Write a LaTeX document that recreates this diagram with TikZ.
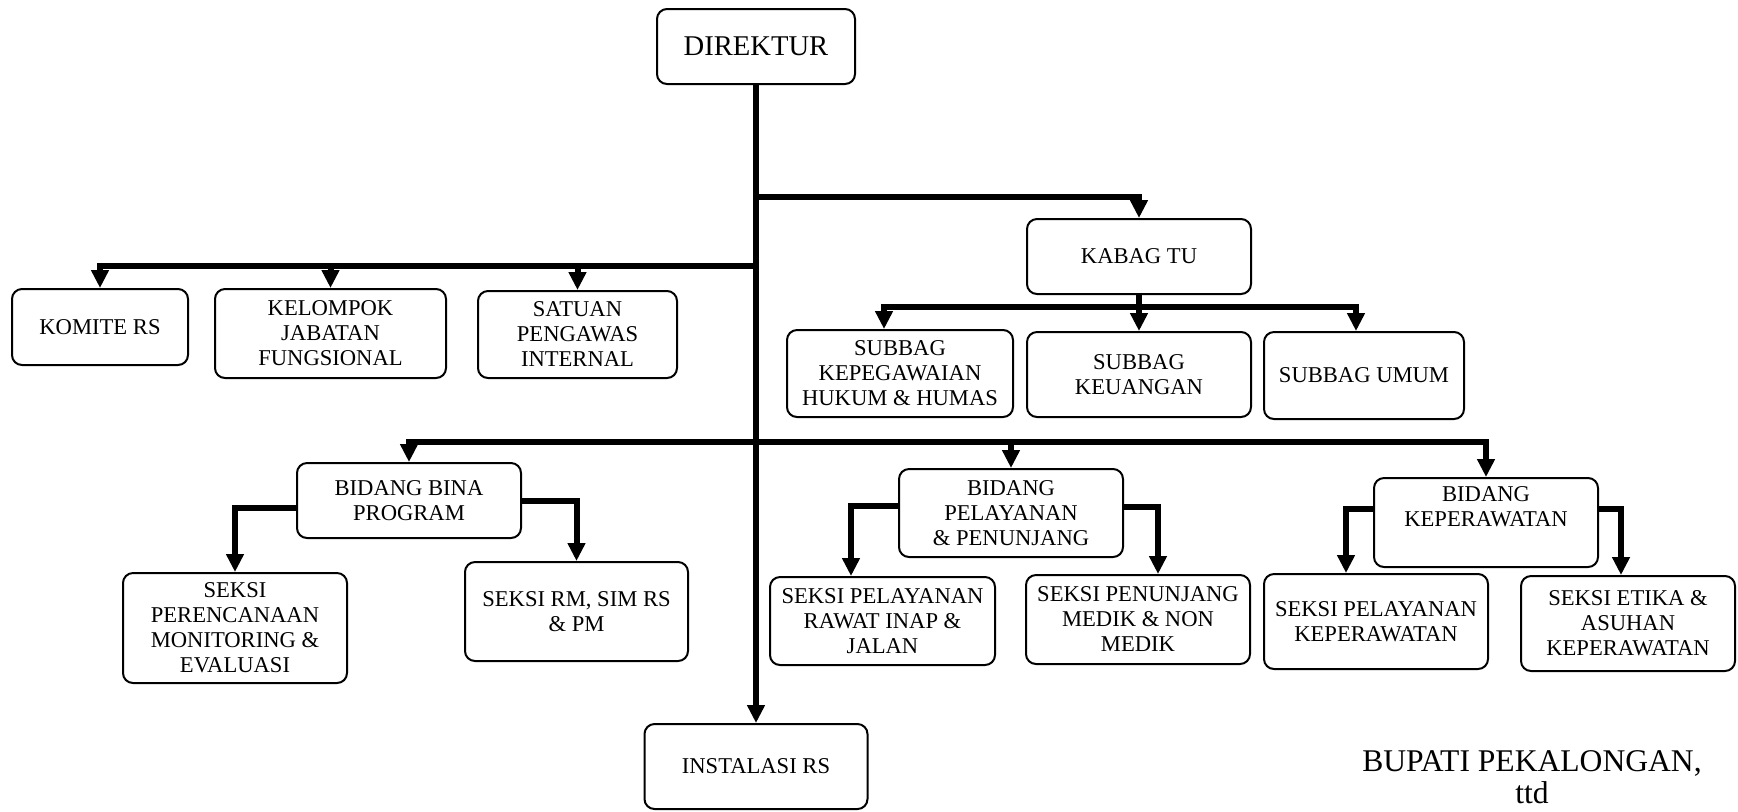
\documentclass[tikz,border=0pt]{standalone}
\usepackage{fontspec}
\setmainfont{Liberation Serif}
\usetikzlibrary{arrows.meta}
\begin{document}
\begin{tikzpicture}[x=0.5pt,y=-0.5pt,
  box/.style={draw,line width=1pt,rounded corners=5pt,inner sep=0pt,align=center,
    font=\fontsize{11.3pt}{12.5pt}\selectfont},
  arr/.style={line width=3pt,-{Triangle[width=8.5pt,length=9pt]}}]
\useasboundingbox (0,0) rectangle (1738,811);
% boxes
\node[box,minimum width=99pt,minimum height=37.5pt,font=\fontsize{14.3pt}{16pt}\selectfont] (dir) at (756,46.5) {DIREKTUR};
\node[box,minimum width=88pt,minimum height=38pt] (komite) at (100,327) {KOMITE RS};
\node[box,minimum width=115.5pt,minimum height=44.5pt] (kelompok) at (330.5,333.5) {KELOMPOK\\JABATAN\\FUNGSIONAL};
\node[box,minimum width=99.5pt,minimum height=43.5pt] (satuan) at (577.5,334.5) {SATUAN\\PENGAWAS\\INTERNAL};
\node[box,minimum width=112pt,minimum height=37.5pt] (kabag) at (1139,256.5) {KABAG TU};
\node[box,minimum width=113pt,minimum height=43.5pt] (kepeg) at (900,373.5) {SUBBAG\\KEPEGAWAIAN\\HUKUM \& HUMAS};
\node[box,minimum width=112pt,minimum height=42.5pt] (keu) at (1139,374.5) {SUBBAG\\KEUANGAN};
\node[box,minimum width=100pt,minimum height=43.5pt] (umum) at (1364,375.5) {SUBBAG UMUM};
\node[box,minimum width=112pt,minimum height=37.5pt] (bina) at (409,500.5) {BIDANG BINA\\PROGRAM};
\node[box,minimum width=112pt,minimum height=55pt] (per) at (235,628) {SEKSI\\PERENCANAAN\\MONITORING \&\\EVALUASI};
\node[box,minimum width=111.5pt,minimum height=49.5pt] (rm) at (576.5,611.5) {SEKSI RM, SIM RS\\\& PM};
\node[box,minimum width=111.5pt,minimum height=42.5pt] (inst) at (756,766.5) {INSTALASI RS};
\node[box,minimum width=112pt,minimum height=44pt] (pel) at (1011,513) {BIDANG\\PELAYANAN\\\& PENUNJANG};
\node[box,minimum width=112.5pt,minimum height=44pt] (rawat) at (882.5,621) {SEKSI PELAYANAN\\RAWAT INAP \&\\JALAN};
\node[box,minimum width=112pt,minimum height=44.5pt] (pen) at (1138,619.5) {SEKSI PENUNJANG\\MEDIK \& NON\\MEDIK};
\node[box,minimum width=112pt,minimum height=44.5pt] (kep) at (1486,522.5) {BIDANG\\KEPERAWATAN\\\strut};
\node[box,minimum width=112pt,minimum height=47.5pt] (pelkep) at (1376,621.5) {SEKSI PELAYANAN\\KEPERAWATAN};
\node[box,minimum width=107pt,minimum height=47.5pt] (etika) at (1628,623.5) {SEKSI ETIKA \&\\ASUHAN\\KEPERAWATAN};
\node[align=center,inner sep=0pt,font=\fontsize{15.8pt}{16pt}\selectfont] (bupati) at (1532,777) {BUPATI PEKALONGAN,\\ttd};
% junctions
\coordinate (j1) at (756,197);
\coordinate (j2) at (756,266);
\coordinate (j3) at (756,442);
\coordinate (kb) at (1139,307);
% connectors
\draw[arr] (dir.south) -- (inst.north);
\draw[arr] (j1) -| (kabag.north);
\draw[arr] (j2) -| (komite.north);
\draw[arr] (j2) -| (kelompok.north);
\draw[arr] (j2) -| (satuan.north);
\draw[arr] (kabag.south) -- (keu.north);
\draw[arr] (kb) -| ([xshift=-8pt]kepeg.north);
\draw[arr] (kb) -| ([xshift=-4pt]umum.north);
\draw[arr] (j3) -| (bina.north);
\draw[arr] (j3) -| (pel.north);
\draw[arr] (j3) -| (kep.north);
\draw[arr] ([yshift=-3.75pt]bina.west) -| (per.north);
\draw[arr] (bina.east) -| (rm.north);
\draw[arr] ([yshift=3.5pt]pel.west) -| ([xshift=-15.75pt]rawat.north);
\draw[arr] ([yshift=3pt]pel.east) -| ([xshift=10pt]pen.north);
\draw[arr] ([yshift=6.75pt]kep.west) -| ([xshift=-15pt]pelkep.north);
\draw[arr] ([yshift=6.75pt]kep.east) -| ([xshift=-3.5pt]etika.north);
\end{tikzpicture}
\end{document}
